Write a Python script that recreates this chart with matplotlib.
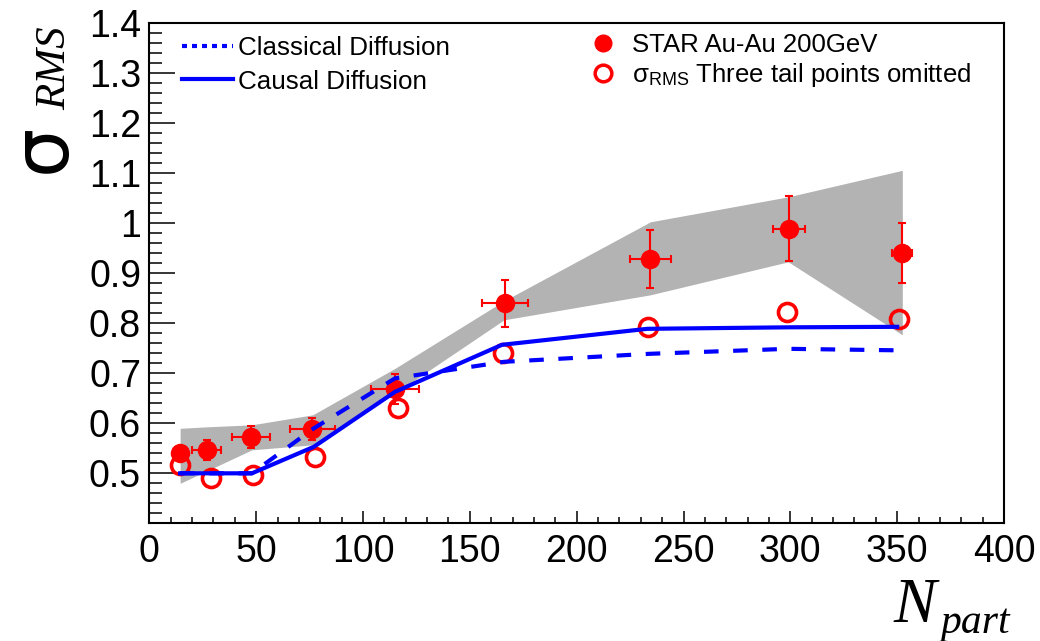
import numpy as np
import matplotlib.pyplot as plt
from matplotlib.lines import Line2D

plt.rcParams['font.family'] = ['Liberation Sans', 'DejaVu Sans']
plt.rcParams['mathtext.fontset'] = 'custom'
plt.rcParams['mathtext.rm'] = 'Liberation Sans'
plt.rcParams['mathtext.it'] = 'Liberation Serif:italic'

# STAR Au-Au 200GeV (filled)
npart = [14.2, 26.9, 47.6, 76.3, 115.0, 166.4, 234.5, 299.3, 352.4]
sigma = [0.540, 0.547, 0.572, 0.588, 0.668, 0.840, 0.929, 0.989, 0.941]
npart_err = [3.0, 6.8, 9.1, 10.5, 11.3, 10.8, 9.5, 7.6, 4.7]
sigma_err = [0.012, 0.020, 0.022, 0.022, 0.030, 0.047, 0.058, 0.065, 0.060]

# three tail points omitted (open)
npart_omit = [14.4, 28.7, 48.7, 77.5, 116.5, 165.4, 233.2, 298.6, 351.0]
sigma_omit = [0.517, 0.490, 0.497, 0.533, 0.630, 0.740, 0.793, 0.822, 0.808]

# systematic band
band_x = [14.4, 27.0, 48.0, 76.5, 115.0, 166.0, 234.5, 299.0, 352.4]
band_lo = [0.480, 0.505, 0.547, 0.557, 0.660, 0.807, 0.857, 0.923, 0.777]
band_hi = [0.590, 0.593, 0.597, 0.617, 0.710, 0.845, 1.003, 1.053, 1.106]

# model curves
causal_x = [14.4, 27.0, 48.0, 77.0, 115.0, 165.0, 233.0, 299.0, 350.0]
causal_y = [0.500, 0.500, 0.500, 0.553, 0.663, 0.757, 0.789, 0.792, 0.793]
class_x = [14.4, 27.0, 48.0, 77.0, 115.0, 166.0, 234.0, 299.0, 350.0]
class_y = [0.500, 0.500, 0.500, 0.590, 0.690, 0.723, 0.739, 0.749, 0.746]

yticks = [0.5, 0.6, 0.7, 0.8, 0.9, 1.0, 1.1, 1.2, 1.3, 1.4]
ylabels = ['0.5', '0.6', '0.7', '0.8', '0.9', '1', '1.1', '1.2', '1.3', '1.4']

fig = plt.figure(figsize=(10.4, 6.41), dpi=100)
ax = fig.add_axes([0.1436, 0.1836, 0.8218, 0.78])

ax.fill_between(band_x, band_lo, band_hi, color='#b3b3b3', lw=0, zorder=1)
ax.errorbar(npart, sigma, xerr=npart_err, yerr=sigma_err, fmt='o', color='red',
            ms=13, elinewidth=1.5, capsize=3, capthick=1.5, zorder=3)
ax.plot(npart_omit, sigma_omit, 'o', mfc='none', mec='red', ms=13, mew=2.6, zorder=4)
ax.plot(class_x, class_y, color='blue', lw=3, dashes=(3.5, 3.5), zorder=5)
ax.plot(causal_x, causal_y, color='blue', lw=3, zorder=5)

ax.set_xlim(0, 400)
ax.set_ylim(0.4, 1.4)
ax.set_xticks(np.arange(0, 401, 50))
ax.set_xticks(np.arange(0, 401, 10), minor=True)
ax.set_yticks(yticks)
ax.set_yticklabels(ylabels)
ax.set_yticks(np.arange(0.4, 1.401, 0.02), minor=True)
ax.tick_params(which='both', direction='in', top=False, right=False, width=1.1)
ax.tick_params(axis='y', which='major', length=19, labelsize=27, pad=6)
ax.tick_params(axis='y', which='minor', length=9.5)
ax.tick_params(axis='x', which='major', length=9, labelsize=27, pad=8)
ax.tick_params(axis='x', which='minor', length=4.5)
for s in ax.spines.values():
    s.set_linewidth(1.5)

# axis titles
fig.text(0.041, 0.768, 'σ', rotation=90, fontsize=56, family='DejaVu Sans',
         ha='center', va='center')
fig.text(0.053, 0.893, 'RMS', rotation=90, fontsize=31, family='Liberation Serif',
         style='italic', ha='center', va='center')
fig.text(0.880, 0.03, 'N', fontsize=46, family='Liberation Serif', style='italic',
         ha='center', va='baseline')
fig.text(0.938, 0.012, 'part', fontsize=30, family='Liberation Serif', style='italic',
         ha='center', va='baseline')

# legends
h1 = [Line2D([], [], color='blue', lw=3, dashes=(1.2, 1.2)),
      Line2D([], [], color='blue', lw=3)]
leg1 = ax.legend(h1, ['Classical Diffusion', 'Causal Diffusion'], loc='upper left',
                 bbox_to_anchor=(0.02, 1.005), frameon=False, fontsize=18.7,
                 handlelength=1.95, handletextpad=0.2, labelspacing=0.35,
                 borderaxespad=0.2)
ax.add_artist(leg1)
h2 = [Line2D([], [], ls='none', marker='o', color='red', ms=12),
      Line2D([], [], ls='none', marker='o', mfc='none', mec='red', ms=12, mew=2.5)]
ax.legend(h2, ['STAR Au-Au 200GeV', 'σ$_{\\mathrm{RMS}}$ Three tail points omitted'],
          loc='upper left', bbox_to_anchor=(0.495, 1.012), frameon=False, fontsize=18.5,
          handlelength=1.2, handletextpad=0.5, labelspacing=0.15, borderaxespad=0.2)

fig.savefig('out.png', dpi=100)
